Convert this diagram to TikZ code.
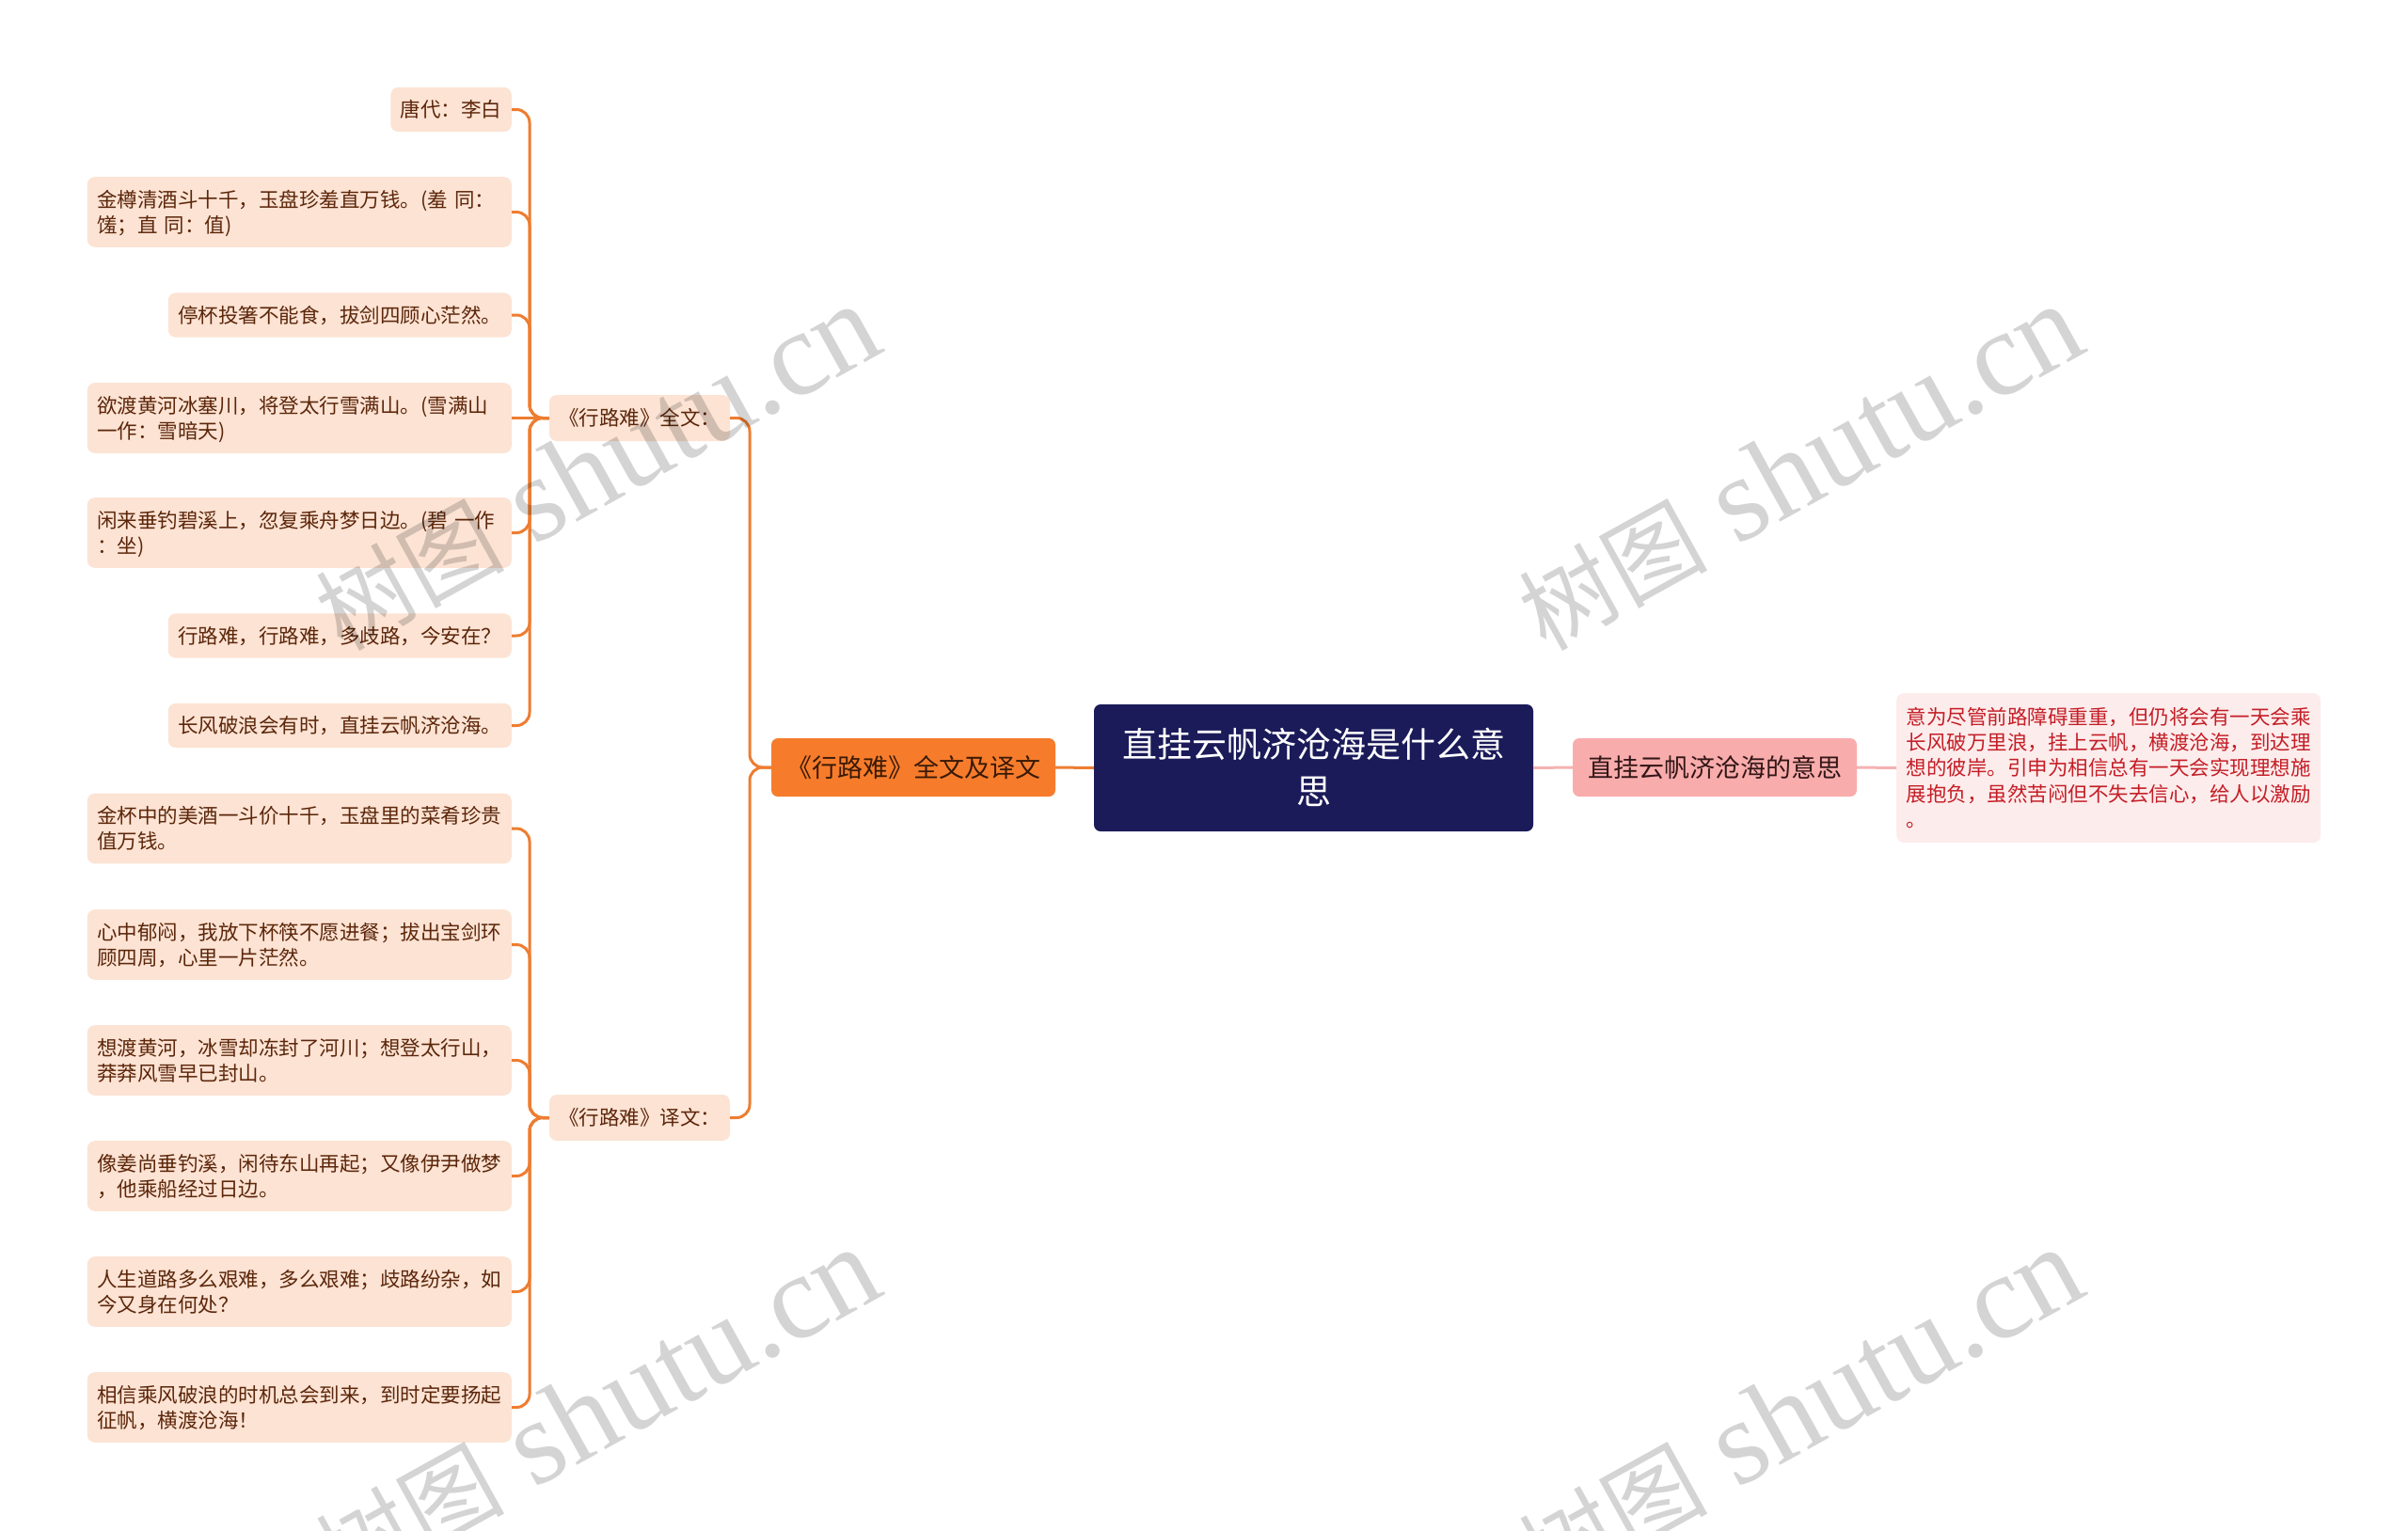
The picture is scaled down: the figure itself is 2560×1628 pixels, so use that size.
\documentclass[tikz,border=0pt]{standalone}
\usepackage{fontspec}
\setmainfont{Noto Sans CJK SC}
\newfontfamily\wmfont{Liberation Serif}
\definecolor{peach}{RGB}{252,227,212}
\definecolor{leaftext}{RGB}{92,38,10}
\definecolor{oline}{RGB}{238,125,49}
\definecolor{orangefill}{RGB}{246,124,44}
\definecolor{brtext}{RGB}{58,26,6}
\definecolor{navy}{RGB}{27,27,90}
\definecolor{pinkfill}{RGB}{249,172,172}
\definecolor{pinktext}{RGB}{50,22,22}
\definecolor{pinkline}{RGB}{245,178,178}
\definecolor{rleaf}{RGB}{253,236,236}
\definecolor{rtext}{RGB}{196,30,38}
\newcommand\lst{\rule[-5.45pt]{0pt}{27.3pt}}
\newcommand\rst{\rule[-11pt]{0pt}{50pt}}
\newcommand\bst{\rule[-6.7pt]{0pt}{34pt}}
\newcommand\wmtext{{\fontsize{100}{100}\selectfont 树图}{\wmfont\ shutu.cn}}
\tikzset{
  leafbox/.style={fill=peach, text=leaftext, rounded corners=8pt, inner xsep=10.5pt, inner ysep=10pt,
    anchor=east, font=\fontsize{21.5}{27.3}\selectfont, align=left},
  widebox/.style={leafbox, text width=430pt},
  subbox/.style={fill=peach, text=leaftext, rounded corners=8pt, inner xsep=10pt, inner ysep=0pt,
    minimum height=49pt, font=\fontsize{21.5}{27.3}\selectfont},
  branchbox/.style={rounded corners=7pt, inner sep=0pt, minimum width=302pt, minimum height=62pt,
    font=\fontsize{27}{34}\selectfont},
  conn/.style={draw=oline, line width=3pt, rounded corners=14pt},
  pconn/.style={draw=pinkline, line width=3pt},
  wm/.style={text=black, text opacity=0.17, font=\fontsize{128}{128}\selectfont, anchor=base east,
    rotate=29, inner sep=0pt}
}
\begin{document}
\begin{tikzpicture}[x=1pt,y=-1pt]
\useasboundingbox (0,0) rectangle (2560,1628);
\clip (0,0) rectangle (2560,1628);
\fill[white] (0,0) rectangle (2560,1628);

% root
\node[fill=navy, text=white, rounded corners=7pt, minimum width=467pt, minimum height=135pt,
  text width=440pt, align=center, inner sep=0pt, font=\fontsize{37}{50}\selectfont]
  (root) at (1396.5,816.5) {\rst 直挂云帆济沧海是什么意\\\rst 思};

% left branch
\node[branchbox, fill=orangefill, text=brtext] (br) at (971,816) {\bst《行路难》全文及译文};
\node[subbox] (qa) at (680,444.5) {\lst《行路难》全文：};
\node[subbox] (qb) at (680,1188.5) {\lst《行路难》译文：};

% top leaves
\node[leafbox] (l1) at (544,116.5) {\lst 唐代：李白};
\node[widebox] (l2) at (544,225.5) {\lst 金樽清酒斗十千，玉盘珍羞直万钱。(羞 同：\\\lst 馐；直 同：值)};
\node[leafbox] (l3) at (544,335) {\lst 停杯投箸不能食，拔剑四顾心茫然。};
\node[widebox] (l4) at (544,444.5) {\lst 欲渡黄河冰塞川，将登太行雪满山。(雪满山\\\lst 一作：雪暗天)};
\node[widebox] (l5) at (544,566.5) {\lst 闲来垂钓碧溪上，忽复乘舟梦日边。(碧 一作\\\lst ：坐)};
\node[leafbox] (l6) at (544,676) {\lst 行路难，行路难，多歧路，今安在？};
\node[leafbox] (l7) at (544,771.5) {\lst 长风破浪会有时，直挂云帆济沧海。};

% bottom leaves
\node[widebox] (m1) at (544,881) {\lst 金杯中的美酒一斗价十千，玉盘里的菜肴珍贵\\\lst 值万钱。};
\node[widebox] (m2) at (544,1004.5) {\lst 心中郁闷，我放下杯筷不愿进餐；拔出宝剑环\\\lst 顾四周，心里一片茫然。};
\node[widebox] (m3) at (544,1127.5) {\lst 想渡黄河，冰雪却冻封了河川；想登太行山，\\\lst 莽莽风雪早已封山。};
\node[widebox] (m4) at (544,1250.5) {\lst 像姜尚垂钓溪，闲待东山再起；又像伊尹做梦\\\lst ，他乘船经过日边。};
\node[widebox] (m5) at (544,1373.5) {\lst 人生道路多么艰难，多么艰难；歧路纷杂，如\\\lst 今又身在何处？};
\node[widebox] (m6) at (544,1496.5) {\lst 相信乘风破浪的时机总会到来，到时定要扬起\\\lst 征帆，横渡沧海！};

% right branch
\node[branchbox, fill=pinkfill, text=pinktext] (rb) at (1823,816) {\bst 直挂云帆济沧海的意思};
\node[fill=rleaf, text=rtext, rounded corners=8pt, anchor=west, inner xsep=10.5pt, inner ysep=0pt,
  minimum height=159pt, text width=430pt, align=left, font=\fontsize{21.5}{27.3}\selectfont]
  (rl) at (2016,816.5) {\lst 意为尽管前路障碍重重，但仍将会有一天会乘\\\lst 长风破万里浪，挂上云帆，横渡沧海，到达理\\\lst 想的彼岸。引申为相信总有一天会实现理想施\\\lst 展抱负，虽然苦闷但不失去信心，给人以激励\\\lst 。};

% connectors
\coordinate (ta) at (563,444.5);
\coordinate (tb) at (563,1188.5);
\coordinate (tc) at (797,816);
\foreach \n in {l1,l2,l3,l5,l6,l7} \draw[conn] (qa.west) -- (ta) |- (\n.east);
\draw[conn] (qa.west) -- (l4.east);
\foreach \n in {m1,m2,m3,m4,m5,m6} \draw[conn] (qb.west) -- (tb) |- (\n.east);
\draw[conn] (br.west) -- (tc) |- (qa.east);
\draw[conn] (br.west) -- (tc) |- (qb.east);
\draw[conn] (root.west) -- (br.east);
\draw[pconn] (root.east) -- (rb.west);
\draw[pconn] (rb.east) -- (rl.west);

% watermarks
\node[wm] (w1) at (944,372) {\wmtext};
\node[wm] (w2) at (2223,372) {\wmtext};
\node[wm] (w3) at (944,1375) {\wmtext};
\node[wm] (w4) at (2223,1375) {\wmtext};
\end{tikzpicture}
\end{document}
